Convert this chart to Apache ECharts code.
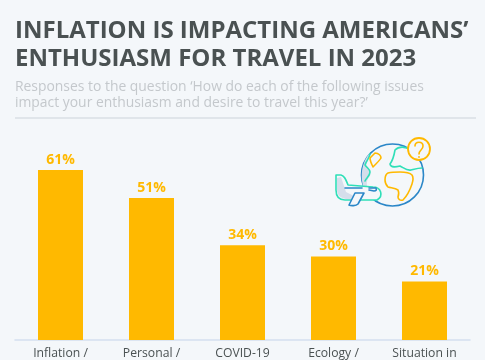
<!DOCTYPE html>
<html><head><meta charset="utf-8">
<style>html,body{margin:0;padding:0;background:#f4f7fa}#c{width:485px;height:360px}</style>
<script src="https://cdn.jsdelivr.net/npm/echarts@6/dist/echarts.min.js"></script>
</head><body><div id="c"></div>
<script>
const categories = ['Inflation /', 'Personal /', 'COVID-19', 'Ecology /', 'Situation in'];
const values = [61, 51, 34, 30, 21];
const titleLines = ['INFLATION IS IMPACTING AMERICANS’', 'ENTHUSIASM FOR TRAVEL IN 2023'];
const subtitleLines = ['Responses to the question ‘How do each of the following issues', 'impact your enthusiasm and desire to travel this year?’'];
const F = '"Open Sans", sans-serif';
const BG = '#f4f7fa';
const txt = (t, y, size, weight, fill) => ({type:'text', x:15, y:y, style:{text:t, font:`${weight} ${size}px ${F}`, fill, textVerticalAlign:'top'}});
let n = 0;
const shape = (d, style, z) => {
  const name = 'icon' + (n++);
  echarts.graphic.registerShape(name, echarts.graphic.extendPath(d));
  return {type:name, z:z||5, style};
};
const line = (d, stroke, z) => shape(d, {fill:'none', stroke, lineWidth:1.6, lineCap:'round', lineJoin:'round'}, z);
const chart = echarts.init(document.getElementById('c'), null, {renderer:'canvas'});
chart.setOption({
  backgroundColor:BG,
  animation:false,
  grid:{left:15, right:15, top:145, height:196},
  xAxis:{type:'category', data:categories,
    axisLine:{lineStyle:{color:'#d3dff0', width:1.5}}, axisTick:{show:false},
    axisLabel:{color:'#4a5152', fontFamily:F, fontSize:12.2, margin:8, interval:0}},
  yAxis:{type:'value', min:0, max:70, show:false, splitLine:{show:false}},
  series:[{type:'bar', data:values, barWidth:45, itemStyle:{color:'#ffb900'},
    label:{show:true, position:'top', distance:3, formatter:'{c}%', color:'#ffb900', fontFamily:F, fontWeight:'bold', fontSize:14}}],
  graphic:[
    txt(titleLines[0], 19, 24, 'bold', '#4a5152'),
    txt(titleLines[1], 47, 24, 'bold', '#4a5152'),
    txt(subtitleLines[0], 80, 13.9, 'normal', '#c4c8cc'),
    txt(subtitleLines[1], 96, 13.9, 'normal', '#c4c8cc'),
    {type:'rect', shape:{x:15, y:117.5, width:461, height:1}, style:{fill:'#ccd3da'}},
    {type:'circle', z:4, shape:{cx:392.5, cy:175, r:31}, style:{fill:BG, stroke:'#2b87c8', lineWidth:1.6}},
    shape('M370 153 C360 163 359 185 368 195 L372 193 C366 188 365 181 370 176 C371 172 370 171 366 166 Z', {fill:'#d5deeb'}, 4),
    line('M412 150 C404 146 398 147 395 150 C394 156 393 160 390 164 C391 168 396 167 400 166 C404 168 407 171 411 170 C415 169 418 168 422 168', '#2fdfb8'),
    line('M370 154 C369 159 366 161 365 165 C367 168 370 169 370 172 C370 176 366 178 365 181', '#2fdfb8'),
    line('M370 158 L375 153 C379 153 381 156 381 158 C380 160 378 162 373 167 C371 163 370 161 370 158 Z', '#ffb900'),
    line('M385 180 C385 176 386 174 388 173 C392 172 396 172 400 172 C405 172 410 173 412 175 C414 178 413 181 412 184 C410 190 407 196 403 200 C400 201 398 199 398 197 C399 194 399 192 398 190 C395 188 391 188 388 187 C386 185 385 183 385 180 Z', '#ffb900'),
    {type:'circle', z:6, shape:{cx:419, cy:149, r:11}, style:{fill:BG, stroke:'#ffb900', lineWidth:1.8}},
    line('M415 146 C415 141 423 141 423 146 C423 150 419 150 419 154', '#ffb900', 7),
    {type:'circle', z:7, shape:{cx:419, cy:157, r:0.9}, style:{fill:'#ffb900'}},
    shape('M336 175 L341 175 C345 176 346 180 348 185 L373 187 C381 187 384 196 377 200 L345 200 C339 200 336 196 336 190 Z', {fill:BG, stroke:'#2fdfb8', lineWidth:1.6, lineJoin:'round'}, 6),
    shape('M337 178 L341 177 L346 192 L360 199 L346 199 C340 198 337 195 337 189 Z', {fill:'#d5deeb'}, 6),
    line('M345 188 L362 188 M369 188 L376 188 C377 190 376 191 374 191 L369 190', '#2b87c8', 7),
    shape('M355 193 L364 193 L358 204 C356 206 351 206 349 205 Z', {fill:BG, stroke:'#2b87c8', lineWidth:1.6, lineJoin:'round'}, 7)
  ]
});
</script></body></html>
